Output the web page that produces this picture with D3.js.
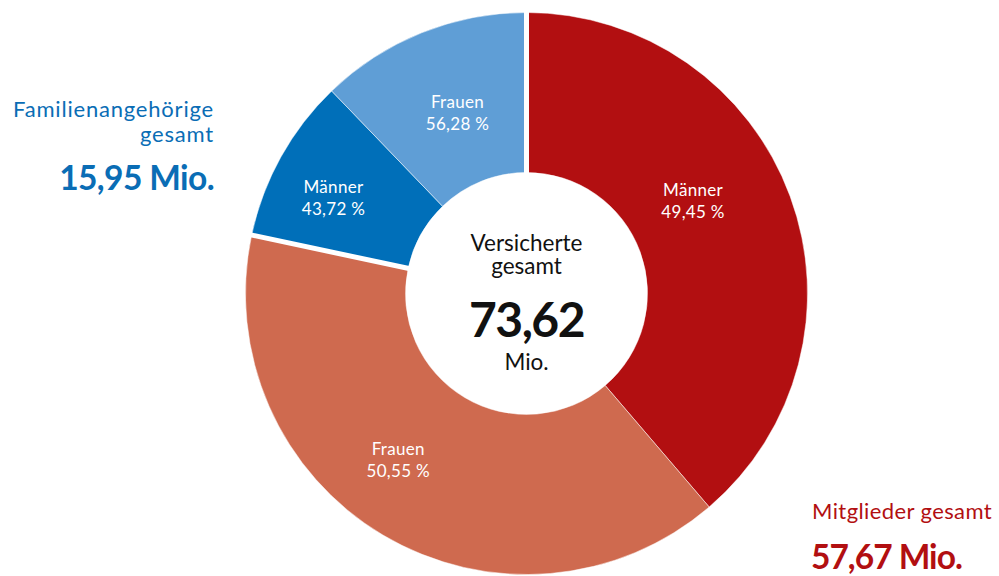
<!DOCTYPE html>
<html lang="de">
<head>
<meta charset="utf-8">
<title>Versicherte gesamt</title>
<script src="https://cdn.jsdelivr.net/npm/d3@7"></script>
<style>
  html, body { margin: 0; padding: 0; background: #fff; }
  svg { display: block; font-family: Lato, "Noto Sans", sans-serif; }
</style>
</head>
<body>
<svg id="chart" width="999" height="576"></svg>
<script>
// Versicherte nach Gruppe und Geschlecht (Mio. bzw. Prozentanteile)
const groupNames = ["Mitglieder", "Familienangehörige"];
const groupTotals = [57.67, 15.95];            // Mio.
const sexNames = ["Männer", "Frauen"];
const sexShares = [[49.45, 50.55], [43.72, 56.28]]; // % innerhalb der Gruppe
const grandTotal = 73.62;                       // Mio.
const sliceColors = ["#b20f11", "#cf6a4f", "#006fb9", "#5f9ed6"];
const groupColors = ["#b20f11", "#0a6db5"];

const fmt = v => d3.format(".2f")(v).replace(".", ",");

// one slice per group × sex, in drawing order clockwise from 12 o'clock
const slices = [];
groupNames.forEach((g, gi) => {
  sexNames.forEach((s, si) => {
    slices.push({
      group: gi, sex: s, share: sexShares[gi][si],
      value: groupTotals[gi] * sexShares[gi][si] / 100
    });
  });
});

const svg = d3.select("#chart");
const cx = 526.5, cy = 293.5;
const rOuter = 281, rInner = 121;

const pie = d3.pie().sort(null).value(d => d.value).startAngle(0).endAngle(2 * Math.PI);
const arcs = pie(slices);
const arc = d3.arc().innerRadius(rInner).outerRadius(rOuter);

const g = svg.append("g").attr("transform", `translate(${cx},${cy})`);

g.selectAll("path.slice")
  .data(arcs)
  .join("path")
  .attr("class", "slice")
  .attr("d", arc)
  .attr("fill", (d, i) => sliceColors[i])
  .attr("stroke", "#fff")
  .attr("stroke-opacity", 0.55)
  .attr("stroke-width", 0.9);

// wider white separators where one group ends and the next begins
const groupStarts = arcs.filter((d, i) => i === 0 || d.data.group !== arcs[i - 1].data.group)
  .map(d => d.startAngle);
g.selectAll("line.sep")
  .data(groupStarts)
  .join("line")
  .attr("class", "sep")
  .attr("x1", a => Math.sin(a) * (rInner - 2))
  .attr("y1", a => -Math.cos(a) * (rInner - 2))
  .attr("x2", a => Math.sin(a) * (rOuter + 3))
  .attr("y2", a => -Math.cos(a) * (rOuter + 3))
  .attr("stroke", "#fff")
  .attr("stroke-width", 5);

// slice labels: position within the slice (fraction of sweep) and radius
const labelPlacement = [
  { t: 0.435, r: 191 },
  { t: 0.55, r: 209 },
  { t: 0.43, r: 216 },
  { t: 0.525, r: 194 }
];
const labels = g.selectAll("text.slice-label")
  .data(arcs)
  .join("text")
  .attr("class", "slice-label")
  .attr("transform", (d, i) => {
    const p = labelPlacement[i];
    const a = d.startAngle + p.t * (d.endAngle - d.startAngle);
    return `translate(${Math.sin(a) * p.r},${-Math.cos(a) * p.r})`;
  })
  .attr("text-anchor", "middle")
  .attr("fill", "#fff")
  .attr("font-size", 17)
  .attr("letter-spacing", 0.3);
labels.append("tspan").attr("x", 0).attr("y", -4).text(d => d.data.sex);
labels.append("tspan").attr("x", 0).attr("y", 18).text(d => fmt(d.data.share) + " %");

// centre total
const center = g.append("text").attr("text-anchor", "middle").attr("fill", "#111");
center.append("tspan").attr("x", 0).attr("y", -43).attr("font-size", 22.5).text("Versicherte");
center.append("tspan").attr("x", 0).attr("y", -20).attr("font-size", 22.5).text("gesamt");
center.append("tspan").attr("x", 0).attr("y", 43).attr("font-size", 48).attr("font-weight", 700)
  .attr("letter-spacing", -1.5).text(fmt(grandTotal));
center.append("tspan").attr("x", 0).attr("y", 76).attr("font-size", 22.5).text("Mio.");

// group totals
const fam = svg.append("text").attr("text-anchor", "end").attr("fill", groupColors[1]);
fam.append("tspan").attr("x", 214).attr("y", 117).attr("font-size", 22).attr("letter-spacing", 0.8)
  .text("Familienangehörige");
fam.append("tspan").attr("x", 214).attr("y", 142).attr("font-size", 22).attr("letter-spacing", 0.8)
  .text("gesamt");
fam.append("tspan").attr("x", 214).attr("y", 190).attr("font-size", 33.5).attr("font-weight", 700)
  .attr("letter-spacing", -0.6).text(fmt(groupTotals[1]) + " Mio.");

const mit = svg.append("text").attr("text-anchor", "start").attr("fill", groupColors[0]);
mit.append("tspan").attr("x", 812).attr("y", 519).attr("font-size", 22).attr("letter-spacing", 0.4)
  .text("Mitglieder gesamt");
mit.append("tspan").attr("x", 811).attr("y", 569).attr("font-size", 33.5).attr("font-weight", 700)
  .attr("letter-spacing", -1).text(fmt(groupTotals[0]) + " Mio.");
</script>
</body>
</html>
